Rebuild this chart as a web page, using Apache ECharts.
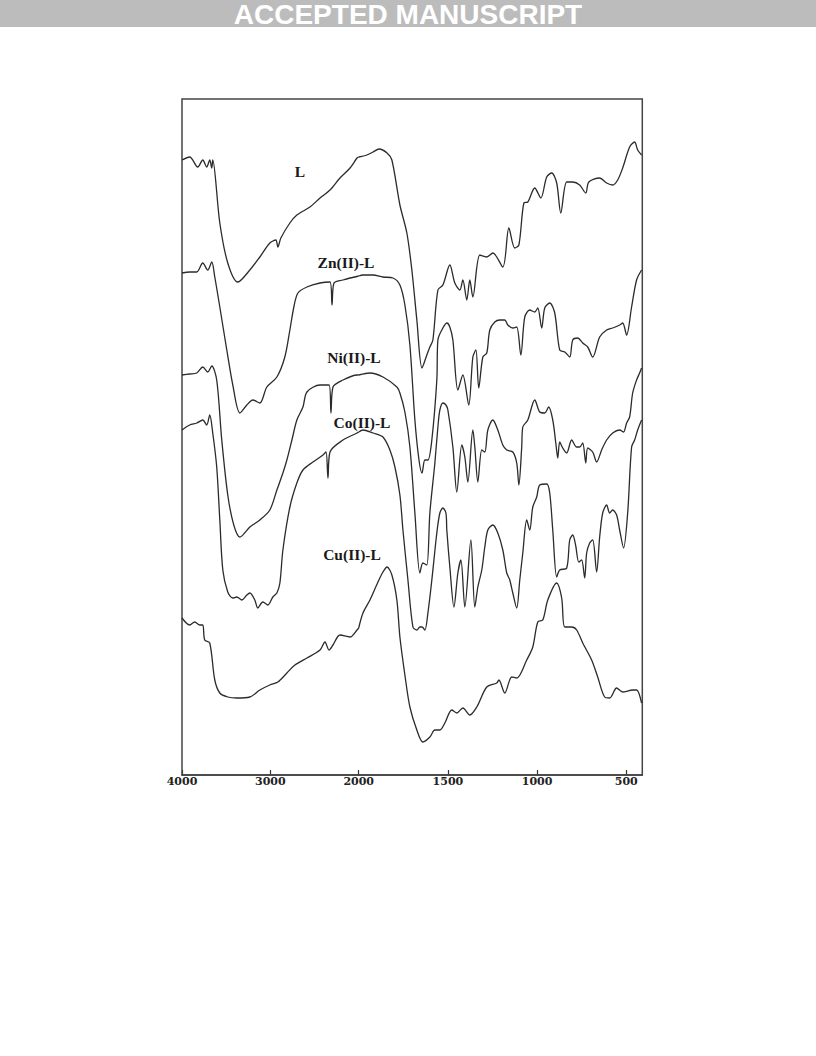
<!DOCTYPE html>
<html><head><meta charset="utf-8">
<script src="https://cdn.jsdelivr.net/npm/echarts@6/dist/echarts.min.js"></script>
<style>html,body{margin:0;padding:0;background:#fff}#c{width:816px;height:1056px}</style>
</head><body><div id="c"></div>
<script>
// Labels and ticks
const seriesNames = ['L', 'Zn(II)-L', 'Ni(II)-L', 'Co(II)-L', 'Cu(II)-L'];
const highTicks = [4000, 3000];
const lowTicks = [2000, 1500, 1000, 500];
const headerText = 'ACCEPTED MANUSCRIPT';

// Spectra: [wavenumber (cm-1), offset transmittance (a.u.)]
const specL = [[4000,615],[3913,618],[3822,608],[3765,615],[3720,608],[3686,615],[3663,607],[3652,615],[3572,552],[3482,512],[3368,493],[3232,505],[3119,518],[3006,532],[2938,535],[2915,528],[2881,537],[2779,552],[2700,560],[2552,568],[2438,577],[2325,585],[2212,597],[2098,607],[2019,617],[2000,618],
[1954,620],[1920,623],[1886,626],[1841,622],[1814,615],[1769,570],[1730,542],[1702,505],[1674,455],[1645,407],[1618,420],[1601,428],[1584,435],[1556,485],[1528,490],[1489,510],[1461,492],[1433,485],[1416,495],[1394,475],[1377,495],[1360,478],[1321,520],[1282,518],[1248,522],[1192,508],[1158,547],[1125,527],[1102,530],[1074,572],[1052,573],[1013,587],[979,577],[946,598],[918,602],[890,592],[867,562],[834,593],[800,593],[761,590],[727,582],[710,593],[649,597],[610,592],[576,590],[548,595],[520,607],[481,628],[453,633],[436,625],[414,620]];

const specZn = [[4000,502],[3913,503],[3833,503],[3765,512],[3709,505],[3663,513],[3629,498],[3572,468],[3493,425],[3425,390],[3345,362],[3266,370],[3198,375],[3119,372],[3040,388],[2926,398],[2836,418],[2779,445],[2734,468],[2688,482],[2586,488],[2438,492],[2325,493],[2302,470],[2280,492],[2178,495],[2098,497],[2000,499],
[1976,500],[1920,500],[1864,498],[1808,497],[1769,490],[1741,470],[1713,430],[1685,355],[1662,315],[1645,302],[1629,315],[1612,315],[1590,335],[1562,395],[1556,435],[1534,445],[1506,452],[1489,448],[1472,435],[1444,385],[1416,400],[1383,370],[1360,418],[1343,425],[1327,387],[1304,418],[1282,422],[1265,445],[1237,453],[1209,455],[1181,455],[1164,450],[1136,447],[1114,448],[1091,420],[1069,458],[1041,465],[1013,463],[996,467],[974,447],[957,467],[929,472],[901,462],[873,425],[845,423],[817,418],[800,435],[772,437],[744,432],[716,428],[688,418],[649,438],[610,445],[576,447],[537,450],[520,452],[498,440],[470,468],[442,495],[414,505]];

const specNi = [[4000,400],[3913,401],[3833,402],[3765,408],[3709,403],[3663,409],[3607,395],[3550,335],[3482,280],[3414,250],[3345,238],[3232,248],[3119,255],[3006,265],[2926,285],[2858,302],[2813,315],[2756,335],[2700,355],[2631,368],[2586,383],[2438,390],[2336,390],[2314,362],[2291,388],[2178,395],[2019,400],[2000,400],
[1937,402],[1864,398],[1786,388],[1769,382],[1741,363],[1713,328],[1685,262],[1657,202],[1640,212],[1618,210],[1601,262],[1573,312],[1556,348],[1545,365],[1528,372],[1511,370],[1500,365],[1472,328],[1450,283],[1422,330],[1405,318],[1388,293],[1360,345],[1349,328],[1332,293],[1310,325],[1293,323],[1276,345],[1248,355],[1220,345],[1192,330],[1170,325],[1136,323],[1114,312],[1102,290],[1086,328],[1080,348],[1052,355],[1013,375],[985,363],[957,362],[935,368],[912,355],[895,332],[884,317],[873,333],[856,327],[834,322],[806,335],[778,328],[761,328],[744,332],[727,312],[716,327],[688,323],[666,313],[638,325],[610,335],[576,342],[537,345],[515,343],[498,352],[481,358],[464,382],[442,395],[425,402],[414,407]];

const specCo = [[4000,345],[3913,350],[3833,352],[3765,355],[3720,350],[3686,360],[3652,342],[3607,308],[3572,255],[3538,205],[3482,183],[3425,177],[3380,178],[3323,175],[3266,180],[3232,182],[3176,175],[3142,167],[3085,173],[3028,170],[2972,178],[2926,182],[2892,192],[2858,225],[2779,268],[2700,292],[2631,305],[2518,313],[2404,320],[2370,323],[2348,297],[2325,323],[2178,335],[2019,342],[2000,343],
[1976,345],[1920,342],[1864,338],[1825,325],[1797,308],[1769,280],[1752,245],[1724,195],[1696,148],[1674,145],[1657,148],[1645,148],[1629,145],[1612,162],[1590,195],[1562,242],[1545,262],[1528,267],[1511,262],[1506,245],[1489,208],[1466,168],[1444,202],[1427,215],[1405,168],[1371,235],[1349,168],[1332,188],[1310,205],[1293,228],[1276,245],[1248,250],[1220,242],[1192,225],[1170,202],[1153,195],[1136,182],[1114,167],[1097,195],[1080,222],[1058,255],[1041,245],[1024,268],[1002,278],[985,290],[946,291],[929,282],[912,245],[890,198],[873,205],[834,207],[817,235],[800,240],[784,230],[766,213],[750,215],[733,197],[722,222],[705,232],[688,235],[666,203],[649,238],[632,262],[610,270],[593,262],[576,265],[554,260],[537,245],[515,227],[492,262],[470,328],[453,335],[436,345],[414,355]];

const specCu = [[4000,157],[3913,150],[3856,153],[3799,150],[3765,150],[3743,135],[3686,132],[3629,95],[3572,82],[3482,78],[3380,77],[3232,78],[3119,85],[3006,90],[2915,93],[2813,102],[2722,110],[2586,117],[2438,125],[2382,133],[2336,125],[2291,130],[2212,140],[2098,138],[2019,145],[2000,147],
[1976,162],[1937,175],[1892,193],[1864,203],[1841,208],[1814,200],[1786,175],[1769,138],[1741,100],[1713,68],[1674,45],[1640,33],[1601,38],[1573,45],[1545,45],[1517,52],[1478,65],[1450,62],[1416,67],[1377,60],[1338,68],[1282,88],[1226,92],[1214,95],[1181,82],[1142,98],[1114,97],[1058,115],[1024,128],[996,153],[968,155],[940,175],[890,192],[862,177],[845,148],[806,148],[778,145],[744,132],[694,115],[660,98],[621,78],[593,77],[554,87],[520,83],[464,85],[442,85],[414,72]];

const specs = [specL, specZn, specNi, specCo, specCu];

const chart = echarts.init(document.getElementById('c'), null, {renderer: 'svg'});
const lineColor = '#2b2b2b';
const plotTop = 99, plotBottom = 775, plotLeft = 182, plotSplit = 358.7, plotRight = 642.3;
const tickFont = {fontFamily: 'DejaVu Serif', fontWeight: 'bold', fontSize: 11, color: '#222'};
const labelFont = {fontFamily: 'Liberation Serif', fontWeight: 'bold', fontSize: 15.5, fill: '#1a1a1a'};

const series = [];
specs.forEach((s, i) => {
  const common = {type: 'line', name: seriesNames[i], showSymbol: false, smooth: 0.3,
    lineStyle: {color: lineColor, width: 1.3}, animation: false, silent: true};
  series.push(Object.assign({}, common, {xAxisIndex: 0, yAxisIndex: 0, data: s.filter(p => p[0] >= 2000)}));
  series.push(Object.assign({}, common, {xAxisIndex: 1, yAxisIndex: 1, data: s.filter(p => p[0] <= 2000)}));
});

const axisCommon = {type: 'value', inverse: true, splitLine: {show: false},
  axisLine: {show: true, lineStyle: {color: '#333', width: 1.5}},
  axisTick: {show: true, inside: true, length: 5, lineStyle: {color: '#333', width: 1.2}},
  axisLabel: Object.assign({margin: 1, formatter: v => String(v)}, tickFont)};

const labelPos = [[300, 171], [346, 262], [354, 357], [362, 422], [352, 554]];

chart.setOption({
  animation: false,
  backgroundColor: '#fff',
  grid: [
    {left: plotLeft, top: plotTop, width: plotSplit - plotLeft, height: plotBottom - plotTop},
    {left: plotSplit, top: plotTop, width: plotRight - plotSplit, height: plotBottom - plotTop}
  ],
  xAxis: [
    Object.assign({}, axisCommon, {gridIndex: 0, min: 2000, max: 4000,
      axisTick: Object.assign({}, axisCommon.axisTick, {customValues: highTicks}),
      axisLabel: Object.assign({}, axisCommon.axisLabel, {customValues: highTicks})}),
    Object.assign({}, axisCommon, {gridIndex: 1, min: 410, max: 2000,
      axisTick: Object.assign({}, axisCommon.axisTick, {customValues: lowTicks}),
      axisLabel: Object.assign({}, axisCommon.axisLabel, {customValues: lowTicks})})
  ],
  yAxis: [
    {type: 'value', gridIndex: 0, min: 0, max: 676, show: false},
    {type: 'value', gridIndex: 1, min: 0, max: 676, show: false}
  ],
  series: series,
  graphic: [
    {type: 'rect', shape: {x: 0, y: 0, width: 816, height: 27}, style: {fill: '#bcbcbc'}, z: 0},
    {type: 'text', x: 408, y: 14, style: {text: headerText, fill: '#fff', fontFamily: 'Liberation Sans', fontWeight: 'bold', fontSize: 28, align: 'center', verticalAlign: 'middle'}},
    {type: 'rect', shape: {x: plotLeft, y: plotTop, width: plotRight - plotLeft, height: plotBottom - plotTop}, style: {fill: 'none', stroke: '#444', lineWidth: 1.5}, z: 1},
    ...seriesNames.map((n, i) => ({type: 'text', x: labelPos[i][0], y: labelPos[i][1],
      style: Object.assign({text: n, align: 'center', verticalAlign: 'middle'}, labelFont), z: 10}))
  ]
});
</script>
</body></html>
